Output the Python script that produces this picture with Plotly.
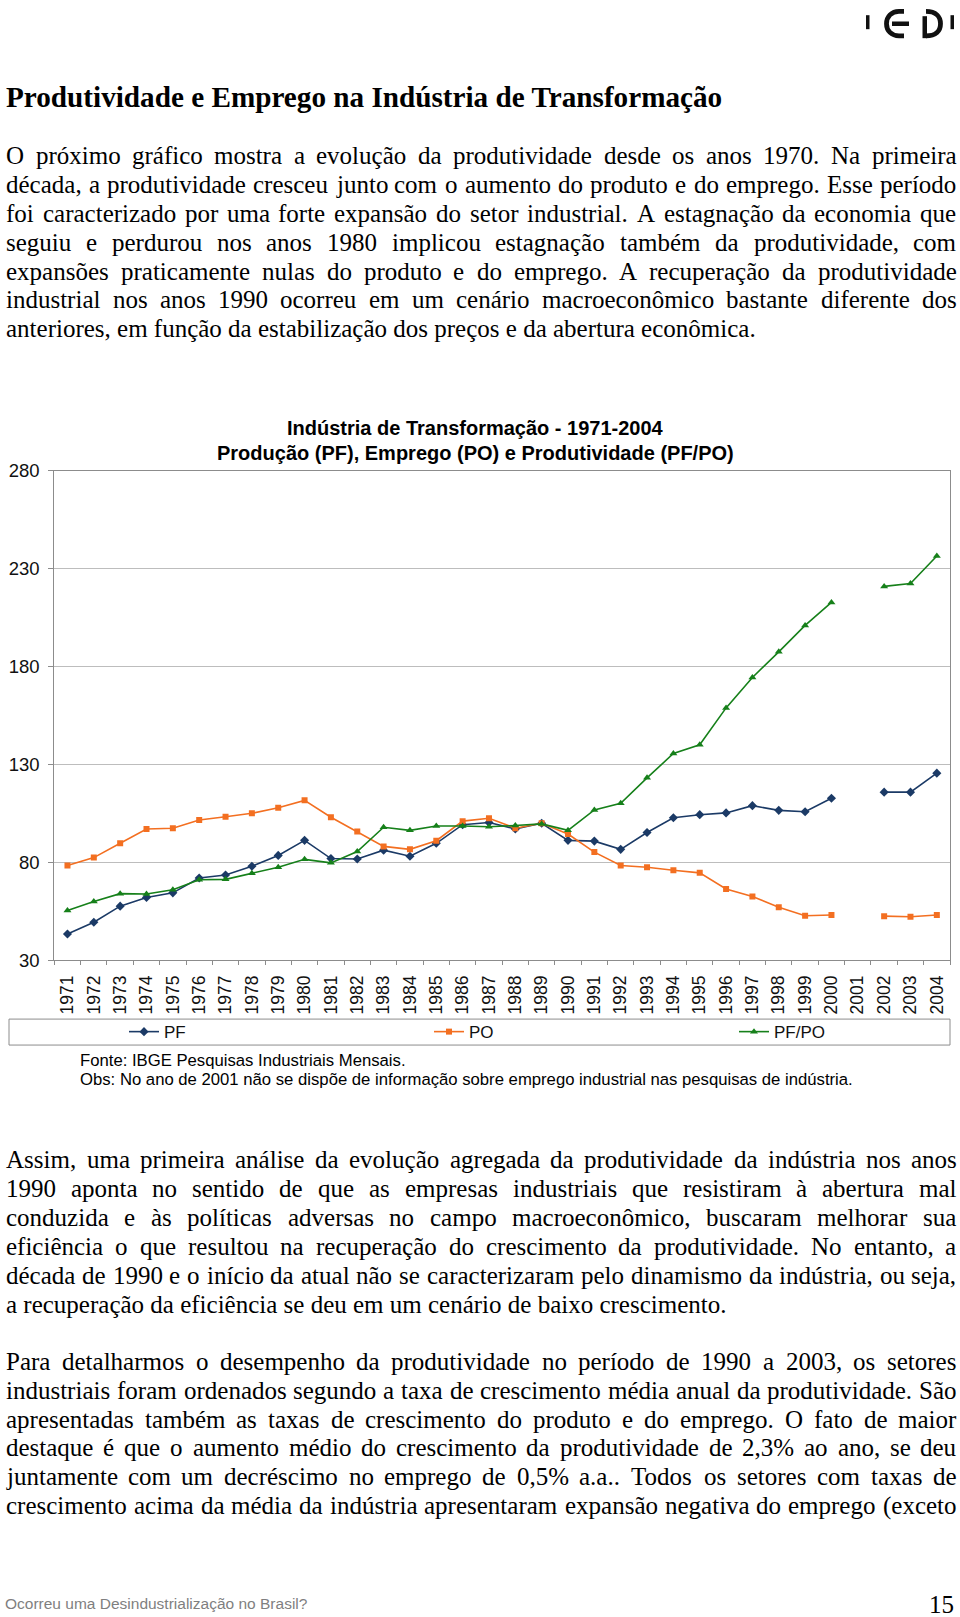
import unicodedata
import plotly.graph_objects as go

# ---------------- data ----------------
years = [str(y) for y in range(1971, 2005)]
pf = [43.5, 49.5, 57.7, 62.1, 64.5, 72.1, 73.6, 78.1, 83.6, 91.3, 82.0, 81.8, 86.3, 83.2, 89.8, 99.3,
      100.4, 97.1, 100.0, 91.3, 90.9, 86.7, 95.3, 102.8, 104.4, 105.3, 109.0, 106.6, 105.9, 112.8,
      None, 115.9, 115.9, 125.6]
po = [78.5, 82.5, 89.8, 97.1, 97.5, 101.7, 103.3, 105.1, 107.9, 111.7, 103.1, 95.8, 88.2, 86.7, 91.1, 101.1,
      102.6, 97.5, 100.0, 94.5, 85.3, 78.5, 77.6, 76.0, 74.7, 66.5, 62.6, 57.2, 52.8, 53.2,
      None, 52.6, 52.3, 53.2]
pfpo = [55.5, 60.1, 64.1, 63.9, 66.1, 71.2, 71.4, 74.5, 77.6, 81.6, 79.8, 85.6, 98.0, 96.4, 98.6, 98.6,
        98.2, 98.9, 99.7, 96.4, 106.8, 110.2, 123.2, 135.6, 140.1, 158.9, 174.4, 187.5, 201.0, 212.7,
        None, 220.9, 222.4, 236.4]
y_ticks = [30, 80, 130, 180, 230, 280]

page_title = "Produtividade e Emprego na Indústria de Transformação"
para1 = [
    "O próximo gráfico mostra a evolução da produtividade desde os anos 1970. Na primeira",
    "década, a produtividade cresceu junto com o aumento do produto e do emprego. Esse período",
    "foi caracterizado por uma forte expansão do setor industrial. A estagnação da economia que",
    "seguiu e perdurou nos anos 1980 implicou estagnação também da produtividade, com",
    "expansões praticamente nulas do produto e do emprego. A recuperação da produtividade",
    "industrial nos anos 1990 ocorreu em um cenário macroeconômico bastante diferente dos",
    "anteriores, em função da estabilização dos preços e da abertura econômica.",
]
para2 = [
    "Assim, uma primeira análise da evolução agregada da produtividade da indústria nos anos",
    "1990 aponta no sentido de que as empresas industriais que resistiram à abertura mal",
    "conduzida e às políticas adversas no campo macroeconômico, buscaram melhorar sua",
    "eficiência o que resultou na recuperação do crescimento da produtividade. No entanto, a",
    "década de 1990 e o início da atual não se caracterizaram pelo dinamismo da indústria, ou seja,",
    "a recuperação da eficiência se deu em um cenário de baixo crescimento.",
]
para3 = [
    "Para detalharmos o desempenho da produtividade no período de 1990 a 2003, os setores",
    "industriais foram ordenados segundo a taxa de crescimento média anual da produtividade. São",
    "apresentadas também as taxas de crescimento do produto e do emprego. O fato de maior",
    "destaque é que o aumento médio do crescimento da produtividade de 2,3% ao ano, se deu",
    "juntamente com um decréscimo no emprego de 0,5% a.a.. Todos os setores com taxas de",
    "crescimento acima da média da indústria apresentaram expansão negativa do emprego (exceto",
]
chart_title1 = "Indústria de Transformação - 1971-2004"
chart_title2 = "Produção (PF), Emprego (PO) e Produtividade (PF/PO)"
fonte = "Fonte: IBGE Pesquisas Industriais Mensais."
obs = "Obs: No ano de 2001 não se dispõe de informação sobre emprego industrial nas pesquisas de indústria."
footer = "Ocorreu uma Desindustrialização no Brasil?"
page_no = "15"

# ---------------- page geometry helpers ----------------
W, H = 960, 1617
# the page photo shows the figure slightly shifted/compressed vertically; compensate
Y_OFF, Y_SCALE = 8.8, 0.9881
def px(x):
    return x / W
def py(y):
    return 1 - ((y - Y_OFF) / Y_SCALE) / H

SERIF = "Liberation Serif, Times New Roman, serif"
SANS = "Liberation Sans, Arial, sans-serif"

TIMES = {
    'A': 722, 'B': 667, 'C': 667, 'D': 722, 'E': 611, 'F': 556, 'G': 722, 'H': 722, 'I': 333, 'J': 389,
    'K': 722, 'L': 611, 'M': 889, 'N': 722, 'O': 722, 'P': 556, 'Q': 722, 'R': 667, 'S': 556, 'T': 611,
    'U': 722, 'V': 722, 'W': 944, 'X': 722, 'Y': 722, 'Z': 611,
    'a': 444, 'b': 500, 'c': 444, 'd': 500, 'e': 444, 'f': 333, 'g': 500, 'h': 500, 'i': 278, 'j': 278,
    'k': 500, 'l': 278, 'm': 778, 'n': 500, 'o': 500, 'p': 500, 'q': 500, 'r': 333, 's': 389, 't': 278,
    'u': 500, 'v': 500, 'w': 722, 'x': 500, 'y': 500, 'z': 444,
    ',': 250, '.': 250, ':': 278, ';': 278, '%': 833, '(': 333, ')': 333, '-': 333, '?': 444, '/': 278,
}
def char_w(ch):
    b = unicodedata.normalize('NFD', ch)[0]
    if b.isdigit():
        return 500
    return TIMES.get(b, 500)
def word_w(word, size):
    return sum(char_w(c) for c in word) * size / 1000.0

BODY_SIZE = 25
LEFT, RIGHT = 5.0, 955.5
LINE_GAP = 28.9

annotations = []
def add_text(x, baseline, text, size, family, color="#000000", xanchor="left", bold=False, asc=0.3375):
    t = f"<b>{text}</b>" if bold else text
    annotations.append(dict(
        x=px(x), y=py(baseline - asc * size), xref="paper", yref="paper",
        text=t, showarrow=False, xanchor=xanchor, yanchor="middle",
        font=dict(size=size, family=family, color=color), borderpad=0,
    ))

def add_paragraph(lines, first_baseline, last_justified=False):
    for i, line in enumerate(lines):
        b = first_baseline + i * LINE_GAP
        is_last = (i == len(lines) - 1) and not last_justified
        if is_last:
            add_text(LEFT, b, line, BODY_SIZE, SERIF)
            continue
        words = line.split(" ")
        widths = [word_w(w, BODY_SIZE) for w in words]
        gap = (RIGHT - LEFT - sum(widths)) / (len(words) - 1)
        x = LEFT
        for w, ww in zip(words, widths):
            add_text(x, b, w, BODY_SIZE, SERIF)
            x += ww + gap

add_text(LEFT, 105, page_title, 29.2, SERIF, bold=True)
add_paragraph(para1, 162)
add_paragraph(para2, 1167.5)
add_paragraph(para3, 1369, last_justified=True)

add_text(475, 433, chart_title1, 20, SANS, xanchor="center", bold=True, asc=0.3465)
add_text(475, 458, chart_title2, 20, SANS, xanchor="center", bold=True, asc=0.3465)
add_text(79, 1065.3, fonte, 16.7, SANS, asc=0.3465)
add_text(79, 1084.4, obs, 16.7, SANS, asc=0.3465)
add_text(3.5, 1608.5, footer, 15.5, SANS, color="#7f7f7f", asc=0.3465)
add_text(955, 1612, page_no, 25, SERIF, xanchor="right")

# ---------------- shapes: legend box + logo ----------------
shapes = []
shapes.append(dict(type="rect", xref="paper", yref="paper", x0=px(9), x1=px(950), y0=py(1044), y1=py(1018),
                   line=dict(color="#8c8c8c", width=1), fillcolor="rgba(0,0,0,0)", layer="below"))
def rect(x0, y0, x1, y1):
    shapes.append(dict(type="rect", xref="paper", yref="paper", x0=px(x0), x1=px(x1), y0=py(y1), y1=py(y0),
                       line=dict(width=0), fillcolor="#111111"))
def P(x, y):
    return f"{px(x):.5f},{py(y):.5f}"
def stroke_path(d):
    shapes.append(dict(type="path", xref="paper", yref="paper", path=d,
                       line=dict(color="#111111", width=4.8), fillcolor="rgba(0,0,0,0)"))
rect(866, 13, 869.5, 27)
stroke_path(f"M {P(904,9.2)} L {P(899,9.2)} C {P(891.5,9.2)} {P(886.5,14.5)} {P(886.5,21.5)} "
            f"C {P(886.5,28.5)} {P(891.5,33.7)} {P(899,33.7)} L {P(904,33.7)}")
rect(892, 19.3, 909, 23.8)
rect(922.5, 14, 927, 36)
stroke_path(f"M {P(926,9.2)} C {P(936,9.2)} {P(940.5,14.5)} {P(940.5,21.5)} "
            f"C {P(940.5,28.5)} {P(936,33.7)} {P(926,33.7)}")
rect(950.5, 13, 954, 27)

# ---------------- chart ----------------
fig = go.Figure()
fig.add_trace(go.Scatter(x=years, y=pf, name="PF", mode="lines+markers", legend="legend",
                         line=dict(color="#1b3a66", width=1.6),
                         marker=dict(symbol="diamond", size=7, color="#1b3a66")))
fig.add_trace(go.Scatter(x=years, y=po, name="PO", mode="lines+markers", legend="legend2",
                         line=dict(color="#f36f21", width=1.6),
                         marker=dict(symbol="square", size=6, color="#f36f21")))
fig.add_trace(go.Scatter(x=years, y=pfpo, name="PF/PO", mode="lines+markers", legend="legend3",
                         line=dict(color="#16801a", width=1.6),
                         marker=dict(symbol="triangle-up", size=7, color="#16801a")))

def leg(x):
    return dict(orientation="h", x=px(x), y=py(1031), xanchor="left", yanchor="middle",
                font=dict(size=17, family=SANS, color="#111111"),
                bgcolor="rgba(0,0,0,0)", borderwidth=0)

fig.update_layout(
    width=W, height=H, autosize=False,
    margin=dict(l=0, r=0, t=0, b=0),
    paper_bgcolor="white", plot_bgcolor="white",
    font=dict(family=SANS, color="#111111"),
    showlegend=True,
    legend=leg(124), legend2=leg(429), legend3=leg(734),
    annotations=annotations,
    shapes=shapes,
    xaxis=dict(domain=[px(54.3), px(950)], type="category", categoryorder="array", categoryarray=years,
               range=[-0.5, len(years) - 0.5],
               tickangle=-90, tickfont=dict(size=17.5, family=SANS, color="#111111"),
               ticks="outside", tickson="boundaries", ticklen=4, tickcolor="#8c8c8c",
               showline=True, linecolor="#8c8c8c", linewidth=1, mirror=True,
               showgrid=False, zeroline=False, ticklabelstandoff=7, fixedrange=True),
    yaxis=dict(domain=[py(959.3), py(468.9)], range=[30, 280], tickmode="array", tickvals=y_ticks,
               ticktext=[str(v) for v in y_ticks], tickfont=dict(size=18.5, family=SANS, color="#111111"),
               ticks="outside", ticklen=5, tickcolor="#8c8c8c",
               showline=True, linecolor="#8c8c8c", linewidth=1, mirror=True,
               showgrid=True, gridcolor="#bdbdbd", gridwidth=1, zeroline=False,
               ticklabelstandoff=5, fixedrange=True),
)

fig.write_html("out.html", config={"displayModeBar": False},
               post_script="document.body.style.margin='0';document.body.style.overflow='hidden';")
